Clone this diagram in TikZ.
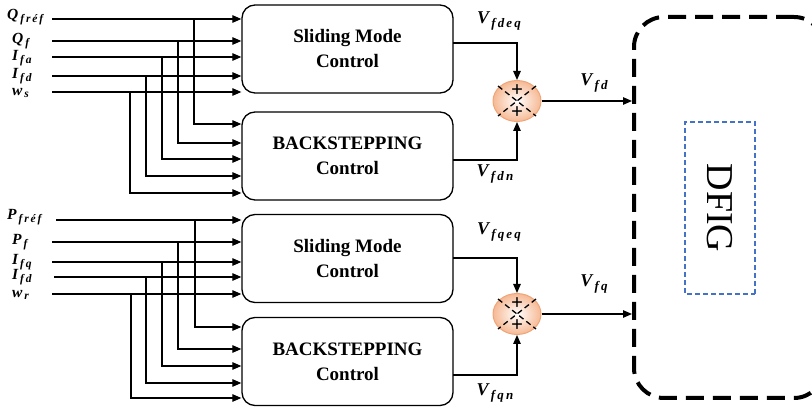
\documentclass[tikz,border=0pt]{standalone}
\usepackage{fontspec}
\setmainfont{Liberation Serif}
\usetikzlibrary{arrows.meta,shapes.geometric,calc}

\definecolor{sumfill}{RGB}{246,185,148}
\definecolor{sumline}{RGB}{240,165,120}
\definecolor{plantblue}{RGB}{68,114,196}

% signal names: bold italic letter with a spaced subscript
\newcommand\outsig[2]{{\fontsize{18}{18}\selectfont\bfseries\itshape #1\raisebox{-0.4ex}{\fontsize{13}{13}\selectfont #2}}}
\newcommand\insig[2]{{\fontsize{15.5}{15.5}\selectfont\bfseries\itshape #1\raisebox{-0.4ex}{\fontsize{11.5}{11.5}\selectfont #2}}}

\tikzset{
  ctrl/.style={draw, line width=1.3pt, rounded corners=13pt, minimum width=211pt,
    minimum height=88pt, inner sep=0pt, align=center,
    font=\fontsize{19}{25}\selectfont\bfseries},
  arr/.style={line width=1.2pt, -{Triangle[length=9pt,width=7.5pt]}},
  summer/.style={ellipse, draw=sumline, line width=1pt, inner color=white,
    outer color=sumfill, minimum width=48pt, minimum height=41pt, inner sep=0pt},
  xcross/.style={line width=1.3pt, dash pattern=on 5.5pt off 3.5pt},
  plus/.style={font=\fontsize{21}{21}\selectfont\bfseries, inner sep=0pt},
  lbl/.style={anchor=west, inner sep=0pt},
  plant/.style={draw, line width=4pt, dash pattern=on 18pt off 9pt,
    rounded corners=30pt, minimum width=190pt, minimum height=381pt},
  machine/.style={draw=plantblue, line width=1.3pt, dash pattern=on 5pt off 3pt,
    rotate=-90, minimum width=172pt, minimum height=70pt,
    font=\fontsize{38}{38}\selectfont}
}

\begin{document}
\begin{tikzpicture}[x=1pt,y=-1pt]
\useasboundingbox (0,0) rectangle (812,411);

% controller blocks
\node[ctrl] (smc1) at (347.5,49)  {Sliding Mode\\Control};
\node[ctrl] (bs1)  at (347.5,156) {BACKSTEPPING\\Control};
\node[ctrl] (smc2) at (347.5,258.5) {Sliding Mode\\Control};
\node[ctrl] (bs2)  at (347.5,361.5) {BACKSTEPPING\\Control};

% machine
\node[plant] (dfig) at (729,207.5) {};
\node[machine] (gen) at (720,208) {DFIG};

% input signals, d axis
\node[lbl] (lq1) at (7,17)  {\insig{Q}{\,f\,r\,é\,f}};
\node[lbl] (lq2) at (12,41) {\insig{Q}{\,f}};
\node[lbl] (lq3) at (12,58) {\insig{I}{\,f\,a}};
\node[lbl] (lq4) at (12,76) {\insig{I}{\,f\,d}};
\node[lbl] (lq5) at (12,93) {\insig{w}{\,s}};

\foreach \n/\ya/\xb/\yb in {1/19/194/124, 2/41/178/143, 3/57/162/159, 4/76/146/176, 5/92/130/193} {
  \coordinate (a\n) at (52,\ya);
  \coordinate (j\n) at (\xb,\ya);
  \coordinate (k\n) at (\xb,\yb);
  \draw[arr] (a\n) -- (a\n -| smc1.west);
  \draw[arr] (j\n) |- (k\n -| bs1.west);
}

% input signals, q axis
\node[lbl] (lp1) at (7,217)  {\insig{P}{\,f\,r\,é\,f}};
\node[lbl] (lp2) at (12,242) {\insig{P}{\,f}};
\node[lbl] (lp3) at (12,262) {\insig{I}{\,f\,q}};
\node[lbl] (lp4) at (12,277) {\insig{I}{\,f\,d}};
\node[lbl] (lp5) at (12,295) {\insig{w}{\,r}};

\foreach \n/\xa/\ya/\xb/\yb in {1/56/220/195/327, 2/52/242/178/349, 3/52/262/162/366, 4/54/277/146/383, 5/52/294/131/398} {
  \coordinate (c\n) at (\xa,\ya);
  \coordinate (m\n) at (\xb,\ya);
  \coordinate (n\n) at (\xb,\yb);
  \draw[arr] (c\n) -- (c\n -| smc2.west);
  \draw[arr] (m\n) |- (n\n -| bs2.west);
}

% summing junctions
\node[summer] (s1) at (517,101) {};
\node[summer] (s2) at (517,314) {};
\foreach \s in {s1,s2} {
  \draw[xcross] ($(\s)+(-19,-15)$) -- ($(\s)+(19,15)$);
  \draw[xcross] ($(\s)+(19,-15)$) -- ($(\s)+(-19,15)$);
  \node[plus] at ($(\s)+(0,-10.5)$) {+};
  \node[plus] at ($(\s)+(0,12)$) {+};
}

% block outputs into the junctions
\coordinate (o1) at (453,43);
\coordinate (o2) at (453,160);
\coordinate (o3) at (453,258);
\coordinate (o4) at (453,375);
\draw[arr] (o1) -| (s1.north);
\draw[arr] (o2) -| (s1.south);
\draw[arr] (o3) -| (s2.north);
\draw[arr] (o4) -| (s2.south);

% junction outputs into the machine
\draw[arr] (s1.east) -- (s1.east -| dfig.west);
\draw[arr] (s2.east) -- (s2.east -| dfig.west);

% signal labels
\node (vfdeq) at (499,21)  {\outsig{V}{\,f\,d\,e\,q}};
\node (vfdn)  at (495,174) {\outsig{V}{\,f\,d\,n}};
\node (vfd)   at (594,83)  {\outsig{V}{\,f\,d}};
\node (vfqeq) at (499,232) {\outsig{V}{\,f\,q\,e\,q}};
\node (vfqn)  at (495,393) {\outsig{V}{\,f\,q\,n}};
\node (vfq)   at (594,284) {\outsig{V}{\,f\,q}};
\end{tikzpicture}
\end{document}
